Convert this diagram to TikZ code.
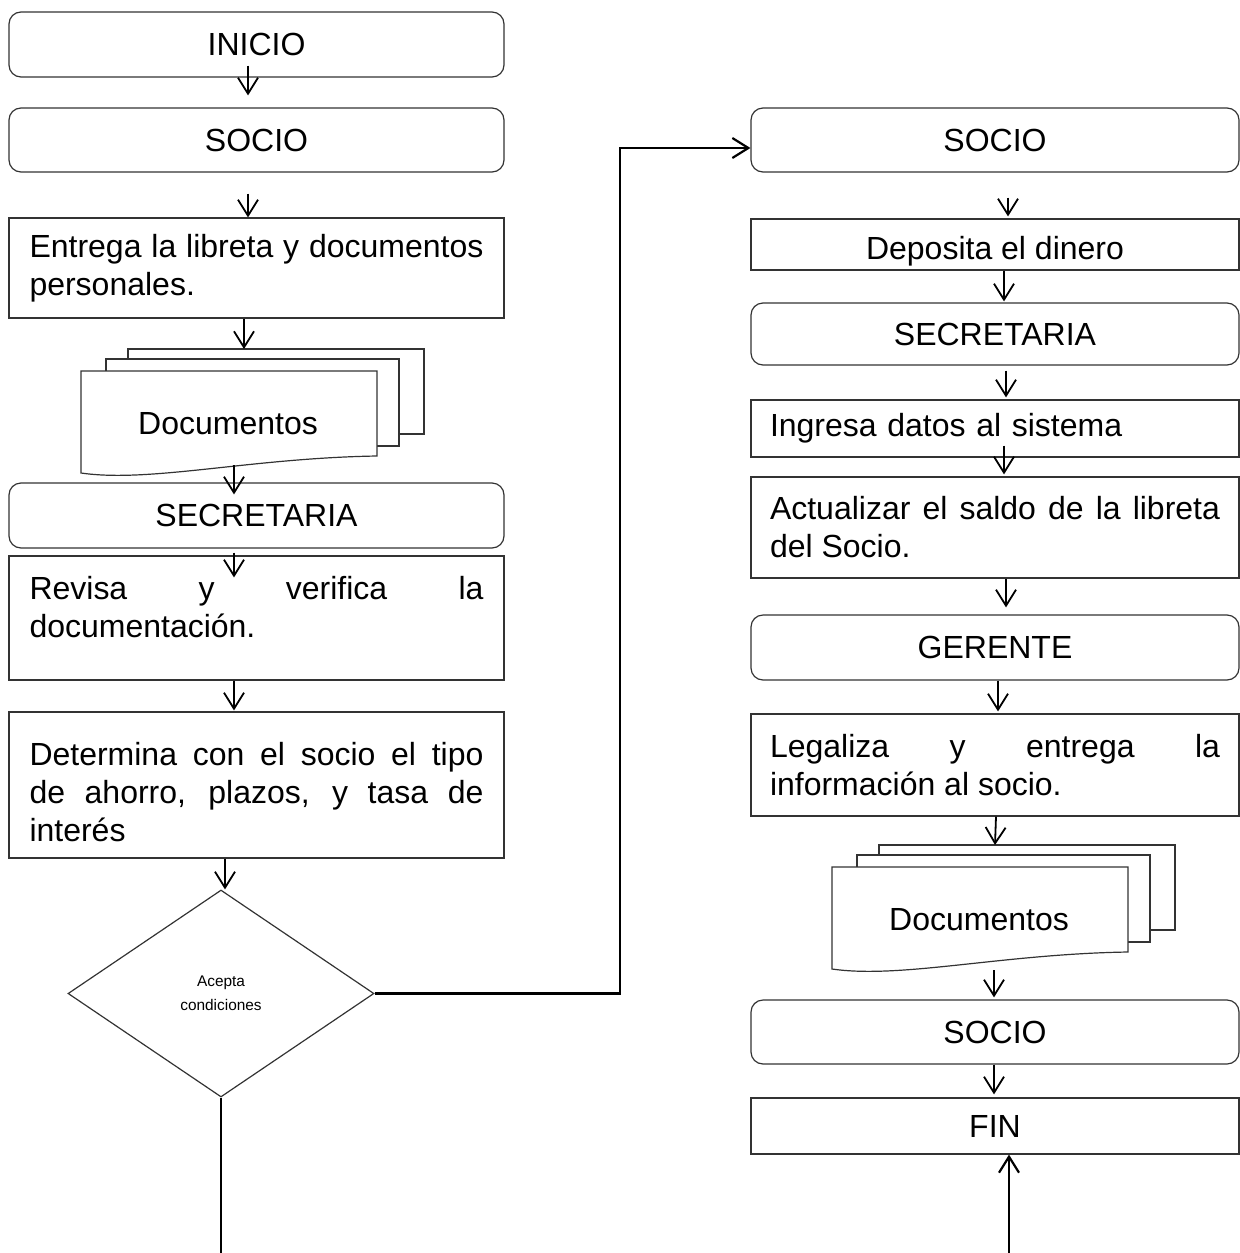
\documentclass[tikz,border=0pt]{standalone}
\usepackage{fontspec}
\setmainfont{Liberation Sans}
\usetikzlibrary{arrows.meta,shapes.geometric,calc}
\begin{document}
\begin{tikzpicture}[x=0.5pt,y=-0.5pt,
  every node/.style={font=\fontsize{16pt}{19pt}\selectfont},
  box/.style={draw=black!80, line width=0.6pt, inner sep=0pt},
  rbox/.style={box, rounded corners=6pt},
  lcol/.style={minimum width=247.5pt},
  rcol/.style={minimum width=244pt},
  para/.style={text width=227pt, align=justify},
  rpara/.style={text width=225pt, align=justify},
  arr/.style={line width=0.9pt, -{Straight Barb[length=8pt,width=10pt]}},
  link/.style={line width=1.1pt},
  sheet/.style={draw=black!80, line width=0.6pt, fill=white},
  docstack/.pic={
    \draw[sheet] (47,-22) rectangle (343,63);
    \draw[sheet] (25,-12) rectangle (318,75);
    \draw[sheet] (0,0) -- (296,0) -- (296,85)
      .. controls (169,87) and (69,112) .. (0,102) -- cycle;
    \node (-t) at (147,53) {Documentos};
    \coordinate (-top) at (163,-22);
    \coordinate (-bot) at (153,94);
  }
]
\useasboundingbox (0,0) rectangle (1240,1253);

% ---- left column ----
\node[rbox,lcol,minimum height=32.5pt] (inicio) at (256.5,44.5) {INICIO};
\node[rbox,lcol,minimum height=32pt] (socio1) at (256.5,140) {SOCIO};
\node[box,lcol,minimum height=50pt,para] (entrega) at (256.5,268)
  {Entrega la libreta y documentos\linebreak personales.};
\pic (d1) at (81,371) {docstack};
\node[rbox,lcol,minimum height=32.5pt] (secre1) at (256.5,515.5) {SECRETARIA};
\node[box,lcol,minimum height=62pt,para] (revisa) at (256.5,618)
  {Revisa y verifica la\linebreak documentación.\rule[-11.5pt]{0pt}{11.5pt}};
\node[box,lcol,minimum height=73pt,para] (determina) at (256.5,785)
  {\vspace*{0pt}\par Determina con el socio el tipo\linebreak de ahorro, plazos, y tasa de\linebreak interés};
\node[draw=black!80, line width=0.6pt, diamond, inner sep=0pt,
      minimum width=153pt, minimum height=103.5pt, align=center,
      font=\fontsize{7.7pt}{12pt}\selectfont] (dec) at (221,993.5)
  {Acepta\\condiciones};
\coordinate (decout) at (221,1253);

% ---- right column ----
\node[rbox,rcol,minimum height=32pt] (socio2) at (995,140) {SOCIO};
\node[box,rcol,minimum height=25.5pt,text height=18pt] (deposita) at (995,244.5)
  {Deposita el dinero};
\node[rbox,rcol,minimum height=31pt] (secre2) at (995,334) {SECRETARIA};
\node[box,rcol,minimum height=28.5pt,text width=225pt,align=left] (ingresa) at (995,428.5)
  {Ingresa datos al sistema};
\node[box,rcol,minimum height=50.5pt,rpara] (actualizar) at (995,527.5)
  {Actualizar el saldo de la libreta\linebreak del Socio.};
\node[rbox,rcol,minimum height=32.5pt] (gerente) at (995,647.5) {GERENTE};
\node[box,rcol,minimum height=51pt,rpara] (legaliza) at (995,765)
  {Legaliza y entrega la\linebreak información al socio.};
\pic (d2) at (832,867) {docstack};
\node[rbox,rcol,minimum height=32pt] (socio3) at (995,1032) {SOCIO};
\node[box,rcol,minimum height=28pt] (fin) at (995,1126) {FIN};
\coordinate (finin) at (1009,1253);

% ---- connectors, left ----
\draw[arr] ($(inicio.south)+(-8.5,-12)$) -- ($(socio1.north)+(-8.5,-12)$);
\draw[arr] ($(socio1.south)+(-8.5,21)$) -- ($(entrega.north)+(-8.5,0)$);
\draw[arr] ($(entrega.south)+(-12.5,0)$) -- (d1-top);
\draw[arr] (d1-bot) -- ($(d1-bot |- secre1.north)+(0,12)$);
\draw[arr] ($(secre1.south)+(-22.5,4)$) -- ($(revisa.north)+(-22.5,22)$);
\draw[arr] ($(revisa.south)+(-22.5,0)$) -- ($(determina.north)+(-22.5,-1)$);
\draw[arr] ($(determina.south)+(-31.5,0)$) -- ($(dec.north)+(4,0)$);
\draw[arr,link] (dec.east) -- ++(245,0) |- ($(socio2.west)+(0,8)$);
\draw[link] (dec.south) -- (decout);

% ---- connectors, right ----
\draw[arr] ($(socio2.south)+(13,25)$) -- ($(deposita.north)+(13,-2)$);
\draw[arr] ($(deposita.south)+(9,0)$) -- ($(secre2.north)+(9,-1)$);
\draw[arr] ($(secre2.south)+(11,5)$) -- ($(ingresa.north)+(11,-2)$);
\draw[arr] ($(ingresa.south)+(9,-12)$) -- ($(actualizar.north)+(9,-2)$);
\draw[arr] ($(actualizar.south)+(11,0)$) -- ($(gerente.north)+(11,-7)$);
\draw[arr] ($(gerente.south)+(3,0)$) -- ($(legaliza.north)+(3,-2)$);
\draw[arr] ($(legaliza.south)+(1,0)$) -- (d2-top);
\draw[arr] ($(d2-bot)+(9,9)$) -- ($(socio3.north)+(-1,-2)$);
\draw[arr] ($(socio3.south)+(-1,0)$) -- ($(fin.north)+(-1,-3)$);
\draw[arr,link] (finin) -- (fin.south -| finin);
\end{tikzpicture}
\end{document}
